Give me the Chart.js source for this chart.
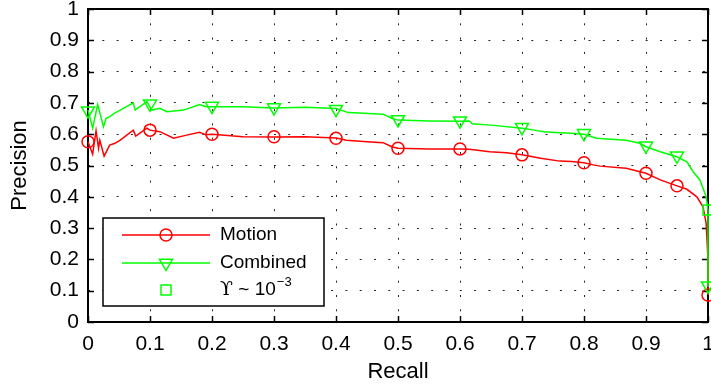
<!DOCTYPE html>
<html>
<head>
<meta charset="utf-8">
<script src="https://cdn.jsdelivr.net/npm/chart.js@4.4.1/dist/chart.umd.min.js"></script>
<style>
  html, body { margin: 0; padding: 0; background: #fff; }
  #wrap { width: 711px; height: 387px; }
</style>
</head>
<body>
<div id="wrap"><canvas id="chart" width="711" height="387"></canvas></div>
<script>
// tick values / labels
const xTickVals = [0, 0.1, 0.2, 0.3, 0.4, 0.5, 0.6, 0.7, 0.8, 0.9, 1];
const xTickLabels = ['0', '0.1', '0.2', '0.3', '0.4', '0.5', '0.6', '0.7', '0.8', '0.9', '1'];
const yTickVals = [0, 0.1, 0.2, 0.3, 0.4, 0.5, 0.6, 0.7, 0.8, 0.9, 1];
const yTickLabels = ['0', '0.1', '0.2', '0.3', '0.4', '0.5', '0.6', '0.7', '0.8', '0.9', '1'];

// Motion curve (red)
const motionX = [0, 0.0075, 0.013, 0.017, 0.019, 0.026, 0.035, 0.0435, 0.052, 0.073, 0.077, 0.095, 0.1, 0.116, 0.138, 0.159, 0.18, 0.19, 0.2, 0.25, 0.3, 0.35, 0.4, 0.417, 0.45, 0.476, 0.49, 0.5, 0.55, 0.6, 0.615, 0.648, 0.675, 0.7, 0.73, 0.761, 0.78, 0.8, 0.815, 0.826, 0.868, 0.9, 0.923, 0.95, 0.966, 0.982, 0.992, 0.997, 1.0, 1.0];
const motionY = [0.576, 0.536, 0.611, 0.555, 0.581, 0.53, 0.565, 0.571, 0.581, 0.613, 0.594, 0.619, 0.613, 0.608, 0.587, 0.597, 0.606, 0.598, 0.6, 0.592, 0.591, 0.592, 0.588, 0.581, 0.576, 0.573, 0.56, 0.555, 0.553, 0.553, 0.552, 0.544, 0.541, 0.534, 0.523, 0.514, 0.513, 0.509, 0.502, 0.498, 0.491, 0.475, 0.454, 0.435, 0.424, 0.4, 0.368, 0.315, 0.2, 0.086];

// Combined curve (green)
const combinedX = [0, 0.0075, 0.0156, 0.025, 0.029, 0.035, 0.0435, 0.052, 0.073, 0.076, 0.095, 0.103, 0.116, 0.127, 0.154, 0.18, 0.19, 0.2, 0.25, 0.3, 0.35, 0.4, 0.42, 0.476, 0.49, 0.5, 0.55, 0.6, 0.615, 0.62, 0.65, 0.7, 0.72, 0.735, 0.761, 0.78, 0.8, 0.82, 0.868, 0.89, 0.9, 0.923, 0.95, 0.966, 0.976, 0.987, 0.997, 1.0, 1.0];
const combinedY = [0.677, 0.619, 0.695, 0.624, 0.65, 0.656, 0.668, 0.677, 0.70, 0.677, 0.704, 0.677, 0.683, 0.672, 0.677, 0.695, 0.688, 0.688, 0.688, 0.684, 0.686, 0.682, 0.669, 0.664, 0.651, 0.645, 0.642, 0.641, 0.642, 0.633, 0.629, 0.619, 0.613, 0.608, 0.605, 0.603, 0.6, 0.587, 0.581, 0.571, 0.56, 0.544, 0.528, 0.512, 0.48, 0.454, 0.4, 0.358, 0.113];

// marker positions
const markX = [0, 0.1, 0.2, 0.3, 0.4, 0.5, 0.6, 0.7, 0.8, 0.9, 0.95, 1.0];
const motionMarkY = [0.576, 0.613, 0.6, 0.592, 0.587, 0.555, 0.553, 0.534, 0.509, 0.475, 0.435, 0.086];
const combinedMarkY = [0.675, 0.697, 0.69, 0.685, 0.68, 0.647, 0.643, 0.622, 0.603, 0.563, 0.531, 0.116];

// Υ ~ 10^-3 operating point
const upsilonX = [1.0];
const upsilonY = [0.358];

const legendLabels = ['Motion', 'Combined', ' ~ 10'];
const RED = '#ff0000';
const GREEN = '#00ff00';
const FONT = "'Liberation Sans', Arial, Helvetica, sans-serif";

function toPoints(xs, ys) {
    return xs.map((x, i) => ({ x: x, y: ys[i] }));
}

// axes box with inward ticks on all four sides
const frameTicks = {
    id: 'frameTicks',
    beforeDatasetsDraw(chart) {
        const { ctx, chartArea: a, scales: { x, y } } = chart;
        const tl = 6;
        ctx.save();
        ctx.strokeStyle = '#000';
        ctx.lineWidth = 1.5;
        ctx.beginPath();
        xTickVals.forEach(v => {
            const px = Math.round(x.getPixelForValue(v)) + 0.5;
            ctx.moveTo(px, a.bottom); ctx.lineTo(px, a.bottom - tl);
            ctx.moveTo(px, a.top); ctx.lineTo(px, a.top + tl);
        });
        yTickVals.forEach(v => {
            const py = Math.round(y.getPixelForValue(v)) + 0.5;
            ctx.moveTo(a.left, py); ctx.lineTo(a.left + tl, py);
            ctx.moveTo(a.right, py); ctx.lineTo(a.right - tl, py);
        });
        ctx.stroke();
        ctx.lineWidth = 2;
        ctx.strokeRect(a.left, a.top, a.right - a.left, a.bottom - a.top);
        ctx.restore();
    }
};

function drawMark(ctx, style, cx, cy) {
    ctx.beginPath();
    if (style === 'circle') {
        ctx.arc(cx, cy, 6, 0, Math.PI * 2);
    } else if (style === 'triangle') {
        const r = 7.5;
        ctx.moveTo(cx - r * 0.866, cy - r * 0.5);
        ctx.lineTo(cx + r * 0.866, cy - r * 0.5);
        ctx.lineTo(cx, cy + r);
        ctx.closePath();
    } else {
        ctx.rect(cx - 5, cy - 5, 10, 10);
    }
    ctx.stroke();
}

// boxed legend, lower left
const boxLegend = {
    id: 'boxLegend',
    afterDraw(chart) {
        const { ctx, chartArea: a } = chart;
        const L = a.left + 15, B = a.bottom - 16, W = 221, H = 88, T = B - H;
        ctx.save();
        ctx.fillStyle = '#fff';
        ctx.fillRect(L, T, W, H);
        ctx.strokeStyle = '#000';
        ctx.lineWidth = 1.5;
        ctx.strokeRect(L, T, W, H);

        const rows = [T + 17, T + 45, T + 72];
        const colors = [RED, GREEN, GREEN];
        const styles = ['circle', 'triangle', 'rect'];
        ctx.lineWidth = 1.5;
        rows.forEach((ry, i) => {
            ctx.strokeStyle = colors[i];
            if (i < 2) {
                ctx.beginPath();
                ctx.moveTo(L + 19, ry); ctx.lineTo(L + 107, ry);
                ctx.stroke();
            }
            drawMark(ctx, styles[i], L + 63, ry);
        });

        ctx.fillStyle = '#000';
        ctx.textBaseline = 'middle';
        ctx.font = '19px ' + FONT;
        ctx.fillText(legendLabels[0], L + 117, rows[0]);
        ctx.fillText(legendLabels[1], L + 117, rows[1]);
        // upsilon symbol, then " ~ 10" and the superscript
        ctx.font = "19px 'DejaVu Serif', serif";
        ctx.fillText('\u03D2', L + 117, rows[2]);
        let x = L + 117 + ctx.measureText('\u03D2').width;
        ctx.font = '19px ' + FONT;
        ctx.fillText(legendLabels[2], x, rows[2]);
        x += ctx.measureText(legendLabels[2]).width;
        ctx.font = '13px ' + FONT;
        ctx.fillText('\u22123', x + 1, rows[2] - 8);
        ctx.restore();
    }
};

document.addEventListener('DOMContentLoaded', function() {
    const ctx = document.getElementById('chart');

    new Chart(ctx.getContext('2d'), {
        type: 'line',
        data: {
            datasets: [
                {
                    label: 'Motion',
                    data: toPoints(motionX, motionY),
                    borderColor: RED,
                    borderWidth: 1.5,
                    pointRadius: 0,
                    tension: 0,
                    clip: false,
                    order: 4
                },
                {
                    label: 'Motion markers',
                    data: toPoints(markX, motionMarkY),
                    showLine: false,
                    pointStyle: 'circle',
                    pointRadius: 6,
                    pointBorderColor: RED,
                    pointBackgroundColor: 'rgba(0,0,0,0)',
                    pointBorderWidth: 1.5,
                    clip: false,
                    order: 3
                },
                {
                    label: 'Combined',
                    data: toPoints(combinedX, combinedY),
                    borderColor: GREEN,
                    borderWidth: 1.5,
                    pointRadius: 0,
                    tension: 0,
                    clip: false,
                    order: 2
                },
                {
                    label: 'Combined markers',
                    data: toPoints(markX, combinedMarkY),
                    showLine: false,
                    pointStyle: 'triangle',
                    rotation: 180,
                    pointRadius: 7.5,
                    pointBorderColor: GREEN,
                    pointBackgroundColor: 'rgba(0,0,0,0)',
                    pointBorderWidth: 1.5,
                    clip: false,
                    order: 1
                },
                {
                    label: 'Upsilon',
                    data: toPoints(upsilonX, upsilonY),
                    showLine: false,
                    pointStyle: 'rect',
                    pointRadius: 7,
                    pointBorderColor: GREEN,
                    pointBackgroundColor: 'rgba(0,0,0,0)',
                    pointBorderWidth: 1.5,
                    clip: false,
                    order: 0
                }
            ]
        },
        options: {
            responsive: false,
            animation: false,
            events: [],
            layout: { autoPadding: false, padding: { left: 0, top: 9, right: 3, bottom: 0 } },
            plugins: {
                legend: { display: false },
                tooltip: { enabled: false }
            },
            scales: {
                x: {
                    type: 'linear',
                    min: 0,
                    max: 1,
                    afterBuildTicks: s => { s.ticks = xTickVals.map(v => ({ value: v })); },
                    afterFit: s => { s.height = 65; s.paddingLeft = 0; s.paddingRight = 0; },
                    ticks: {
                        padding: 10,
                        color: '#000',
                        maxRotation: 0,
                        autoSkip: false,
                        font: { family: FONT, size: 21 },
                        callback: (v, i) => xTickLabels[i]
                    },
                    grid: { color: '#222', lineWidth: 1, drawTicks: false },
                    border: { display: false, dash: [2, 12.3] },
                    title: {
                        display: true,
                        text: 'Recall',
                        color: '#000',
                        font: { family: FONT, size: 22 },
                        padding: { top: 0, bottom: 2 }
                    }
                },
                y: {
                    type: 'linear',
                    min: 0,
                    max: 1,
                    afterBuildTicks: s => { s.ticks = yTickVals.map(v => ({ value: v })); },
                    afterFit: s => { s.width = 88; s.paddingTop = 0; s.paddingBottom = 0; },
                    ticks: {
                        padding: 9,
                        color: '#000',
                        autoSkip: false,
                        font: { family: FONT, size: 21 },
                        callback: (v, i) => yTickLabels[i]
                    },
                    grid: { color: '#222', lineWidth: 1, drawTicks: false },
                    border: { display: false, dash: [2, 12.3] },
                    title: {
                        display: true,
                        text: 'Precision',
                        color: '#000',
                        font: { family: FONT, size: 22 },
                        padding: { top: 7, bottom: 0 }
                    }
                }
            }
        },
        plugins: [frameTicks, boxLegend]
    });
});
</script>
</body>
</html>
